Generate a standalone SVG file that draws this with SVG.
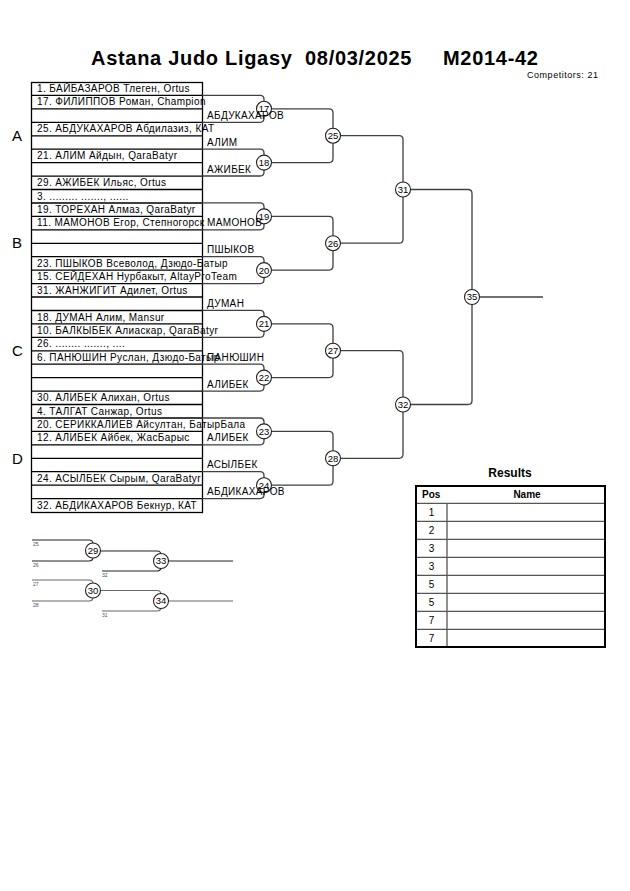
<svg xmlns="http://www.w3.org/2000/svg" width="630" height="891" viewBox="0 0 630 891">
<style>
text{font-family:"Liberation Sans",Arial,sans-serif;fill:#000}
.title{font-size:20px;font-weight:bold;letter-spacing:0.7px}
.comp{font-size:9px}
.pool{font-size:15px}
.row{font-size:10px;letter-spacing:0.4px}
.lab{font-size:10px;letter-spacing:0.35px}
.num{font-size:9.5px;text-anchor:middle}
.sm{font-size:5px;fill:#335566}
.grid{stroke:#000;stroke-width:1.3;fill:none}
.con{stroke:#404040;stroke-width:1.3;fill:none}
.rep{stroke:#222;stroke-width:1.2;fill:none}
.rep2{stroke:#666;stroke-width:1.2;fill:none}
.mc{fill:#fff;stroke:#222;stroke-width:1.1}
.tb{stroke:#000;stroke-width:2;fill:none}
.tl{stroke:#555;stroke-width:1.3;fill:none}
.rh{font-size:12px;font-weight:bold;text-anchor:middle}
.th{font-size:10px;font-weight:bold}
.td{font-size:10px;text-anchor:middle}
</style>

<g id="header">
<text class="title" x="91" y="65">Astana Judo Ligasy</text>
<text class="title" x="305" y="65">08/03/2025</text>
<text class="title" x="443" y="65">M2014-42</text>
<text class="comp" x="527" y="78" textLength="71">Competitors: 21</text>
</g>

<g id="pools">
<text class="pool" x="12" y="141">A</text>
<text class="pool" x="12" y="248">B</text>
<text class="pool" x="12" y="356">C</text>
<text class="pool" x="12" y="464">D</text>
</g>

<g id="draw-grid">
<rect class="grid" x="31.5" y="82.5" width="171" height="430"/>
<path class="grid" d="M31,95.4H202M31,108.9H202M31,122.3H202M31,135.8H202M31,149.2H202M31,162.6H202M31,176.1H202M31,189.5H202M31,203H202M31,216.4H202M31,229.8H202M31,243.3H202M31,256.7H202M31,270.1H202M31,283.6H202M31,297H202M31,310.5H202M31,323.9H202M31,337.3H202M31,350.8H202M31,364.2H202M31,377.6H202M31,391.1H202M31,404.5H202M31,418H202M31,431.4H202M31,444.8H202M31,458.3H202M31,471.7H202M31,485.1H202M31,498.6H202"/>
</g>

<g id="entrants">
<g id="e1"><text class="row" x="37" y="92">1. БАЙБАЗАРОВ Тлеген, Ortus</text></g>
<g id="e17"><text class="row" x="37" y="105.4">17. ФИЛИППОВ Роман, Champion</text></g>
<g id="e25"><text class="row" x="37" y="132.3">25. АБДУКАХАРОВ Абдилазиз, КАТ</text></g>
<g id="e21"><text class="row" x="37" y="159.2">21. АЛИМ Айдын, QaraBatyr</text></g>
<g id="e29"><text class="row" x="37" y="186.1">29. АЖИБЕК Ильяс, Ortus</text></g>
<g id="e3"><text class="row" x="37" y="199.5">3. ......... ......., ......</text></g>
<g id="e19"><text class="row" x="37" y="213">19. ТОРЕХАН Алмаз, QaraBatyr</text></g>
<g id="e11"><text class="row" x="37" y="226.4">11. МАМОНОВ Егор, Степногорск</text></g>
<g id="e23"><text class="row" x="37" y="266.7">23. ПШЫКОВ Всеволод, Дзюдо-Батыр</text></g>
<g id="e15"><text class="row" x="37" y="280.2">15. СЕЙДЕХАН Нурбакыт, AltayProTeam</text></g>
<g id="e31"><text class="row" x="37" y="293.6">31. ЖАНЖИГИТ Адилет, Ortus</text></g>
<g id="e18"><text class="row" x="37" y="320.5">18. ДУМАН Алим, Mansur</text></g>
<g id="e10"><text class="row" x="37" y="333.9">10. БАЛКЫБЕК Алиаскар, QaraBatyr</text></g>
<g id="e26"><text class="row" x="37" y="347.4">26. ........ ......., ....</text></g>
<g id="e6"><text class="row" x="37" y="360.8">6. ПАНЮШИН Руслан, Дзюдо-Батыр</text></g>
<g id="e30"><text class="row" x="37" y="401.1">30. АЛИБЕК Алихан, Ortus</text></g>
<g id="e4"><text class="row" x="37" y="414.6">4. ТАЛГАТ Санжар, Ortus</text></g>
<g id="e20"><text class="row" x="37" y="428">20. СЕРИККАЛИЕВ Айсултан, БатырБала</text></g>
<g id="e12"><text class="row" x="37" y="441.4">12. АЛИБЕК Айбек, ЖасБарыс</text></g>
<g id="e24"><text class="row" x="37" y="481.8">24. АСЫЛБЕК Сырым, QaraBatyr</text></g>
<g id="e32"><text class="row" x="37" y="508.6">32. АБДИКАХАРОВ Бекнур, КАТ</text></g>
</g>

<g id="connectors">
<path class="con" d="M202,95.4H260Q264,95.4 264,99.4V118.3Q264,122.3 260,122.3H202"/>
<path class="con" d="M202,149.2H260Q264,149.2 264,153.2V172Q264,176 260,176H202"/>
<path class="con" d="M202,202.9H260Q264,202.9 264,206.9V225.8Q264,229.8 260,229.8H202"/>
<path class="con" d="M202,256.7H260Q264,256.7 264,260.7V279.6Q264,283.6 260,283.6H202"/>
<path class="con" d="M202,310.4H260Q264,310.4 264,314.4V333.3Q264,337.3 260,337.3H202"/>
<path class="con" d="M202,364.2H260Q264,364.2 264,368.2V387.1Q264,391.1 260,391.1H202"/>
<path class="con" d="M202,418H260Q264,418 264,422V440.8Q264,444.8 260,444.8H202"/>
<path class="con" d="M202,471.7H260Q264,471.7 264,475.7V494.6Q264,498.6 260,498.6H202"/>
<path class="con" d="M264,108.8H329Q333,108.8 333,112.8V158.6Q333,162.6 329,162.6H264"/>
<path class="con" d="M264,216.4H329Q333,216.4 333,220.4V266.1Q333,270.1 329,270.1H264"/>
<path class="con" d="M264,323.9H329Q333,323.9 333,327.9V373.6Q333,377.6 329,377.6H264"/>
<path class="con" d="M264,431.4H329Q333,431.4 333,435.4V481.2Q333,485.2 329,485.2H264"/>
<path class="con" d="M333,135.7H399Q403,135.7 403,139.7V239.2Q403,243.2 399,243.2H333"/>
<path class="con" d="M333,350.7H399Q403,350.7 403,354.7V454.3Q403,458.3 399,458.3H333"/>
<path class="con" d="M403,189.5H468Q472,189.5 472,193.5V400.5Q472,404.5 468,404.5H403"/>
<path class="con" d="M472,297H543"/>
<path class="rep" d="M32,540H89Q93,540 93,544V557Q93,561 89,561H32"/>
<path class="rep" d="M93,551H157Q161,551 161,555V567Q161,571 157,571H102"/>
<path class="rep" d="M161,561H233"/>
<path class="rep2" d="M32,580H89Q93,580 93,584V597Q93,601 89,601H32"/>
<path class="rep2" d="M93,590.5H157Q161,590.5 161,594.5V607Q161,611 157,611H102"/>
<path class="rep2" d="M161,601H233"/>
</g>

<g id="m17"><circle class="mc" cx="264" cy="108.8" r="7.5"/><text class="num" x="264" y="112.2">17</text></g>
<g id="m18"><circle class="mc" cx="264" cy="162.6" r="7.5"/><text class="num" x="264" y="166">18</text></g>
<g id="m19"><circle class="mc" cx="264" cy="216.4" r="7.5"/><text class="num" x="264" y="219.8">19</text></g>
<g id="m20"><circle class="mc" cx="264" cy="270.1" r="7.5"/><text class="num" x="264" y="273.5">20</text></g>
<g id="m21"><circle class="mc" cx="264" cy="323.9" r="7.5"/><text class="num" x="264" y="327.3">21</text></g>
<g id="m22"><circle class="mc" cx="264" cy="377.6" r="7.5"/><text class="num" x="264" y="381">22</text></g>
<g id="m23"><circle class="mc" cx="264" cy="431.4" r="7.5"/><text class="num" x="264" y="434.8">23</text></g>
<g id="m24"><circle class="mc" cx="264" cy="485.2" r="7.5"/><text class="num" x="264" y="488.6">24</text></g>
<g id="m25"><circle class="mc" cx="333" cy="135.7" r="7.5"/><text class="num" x="333" y="139.1">25</text></g>
<g id="m26"><circle class="mc" cx="333" cy="243.2" r="7.5"/><text class="num" x="333" y="246.6">26</text></g>
<g id="m27"><circle class="mc" cx="333" cy="350.7" r="7.5"/><text class="num" x="333" y="354.1">27</text></g>
<g id="m28"><circle class="mc" cx="333" cy="458.3" r="7.5"/><text class="num" x="333" y="461.7">28</text></g>
<g id="m31"><circle class="mc" cx="403" cy="189.5" r="7.5"/><text class="num" x="403" y="192.9">31</text></g>
<g id="m32"><circle class="mc" cx="403" cy="404.5" r="7.5"/><text class="num" x="403" y="407.9">32</text></g>
<g id="m35"><circle class="mc" cx="472" cy="297" r="7.5"/><text class="num" x="472" y="300.4">35</text></g>

<g id="winners">
<text class="lab" x="207" y="118.9">АБДУКАХАРОВ</text>
<text class="lab" x="207" y="145.8">АЛИМ</text>
<text class="lab" x="207" y="172.6">АЖИБЕК</text>
<text class="lab" x="207" y="226.4">МАМОНОВ</text>
<text class="lab" x="207" y="253.3">ПШЫКОВ</text>
<text class="lab" x="207" y="307">ДУМАН</text>
<text class="lab" x="207" y="360.8">ПАНЮШИН</text>
<text class="lab" x="207" y="387.7">АЛИБЕК</text>
<text class="lab" x="207" y="441.4">АЛИБЕК</text>
<text class="lab" x="207" y="468.3">АСЫЛБЕК</text>
<text class="lab" x="207" y="495.2">АБДИКАХАРОВ</text>
</g>

<g id="repechage-labels">
<text class="sm" x="33" y="546">25</text>
<text class="sm" x="33" y="567">26</text>
<text class="sm" x="102" y="577">32</text>
<text class="sm" x="33" y="586">27</text>
<text class="sm" x="33" y="607">28</text>
<text class="sm" x="102" y="617">31</text>
</g>
<g id="m29"><circle class="mc" cx="93" cy="550.5" r="7.5"/><text class="num" x="93" y="553.9">29</text></g>
<g id="m33"><circle class="mc" cx="161" cy="561" r="7.5"/><text class="num" x="161" y="564.4">33</text></g>
<g id="m30"><circle class="mc" cx="93" cy="590.5" r="7.5"/><text class="num" x="93" y="593.9">30</text></g>
<g id="m34"><circle class="mc" cx="161" cy="601" r="7.5"/><text class="num" x="161" y="604.4">34</text></g>

<g id="results">
<text class="rh" x="510" y="477">Results</text>
<path class="tl" d="M416,503.3H605M416,521.3H605M416,539.3H605M416,557.3H605M416,575.3H605M416,593.3H605M416,611.3H605M416,629.3H605M447,503.3V647"/>
<rect class="tb" x="416" y="486" width="189" height="161"/>
<text class="th" x="422" y="498">Pos</text>
<text class="th" x="527" y="498" text-anchor="middle">Name</text>
<text class="td" x="431.5" y="516">1</text>
<text class="td" x="431.5" y="534">2</text>
<text class="td" x="431.5" y="552">3</text>
<text class="td" x="431.5" y="570">3</text>
<text class="td" x="431.5" y="588">5</text>
<text class="td" x="431.5" y="606">5</text>
<text class="td" x="431.5" y="624">7</text>
<text class="td" x="431.5" y="642">7</text>
</g>
</svg>
